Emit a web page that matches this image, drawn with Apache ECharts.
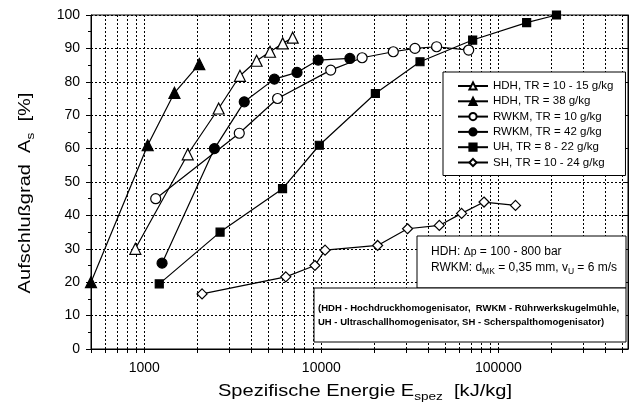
<!DOCTYPE html>
<html>
<head>
<meta charset="utf-8">
<script src="https://cdn.jsdelivr.net/npm/echarts@6/dist/echarts.min.js"></script>
<style>
html, body { margin: 0; padding: 0; background: #fff; }
#chart { width: 636px; height: 407px; }
</style>
</head>
<body>
<div id="chart"></div>
<script>
// specific energy E_spez [kJ/kg] and disruption degree A_s [%]
var hdhLowE = [890, 1760, 2630, 3470, 4310, 5130, 6050, 6890];
var hdhLowA = [30, 58.3, 72, 81.8, 86.3, 89, 91.5, 93.2];
var hdhHighE = [500, 1045, 1480, 2045];
var hdhHighA = [20, 61, 76.7, 85.3];
var rwkmLowE = [1160, 3440, 5660, 11300, 17000, 25500, 33800, 44800, 68000];
var rwkmLowA = [45, 64.6, 75, 83.5, 87.2, 89, 90, 90.5, 89.5];
var rwkmHighE = [1260, 2490, 3670, 5430, 7290, 9600, 14500];
var rwkmHighA = [25.7, 60, 74, 80.8, 82.8, 86.5, 87];
var uhE = [1215, 2680, 6040, 9740, 20200, 36100, 71600, 144500, 213000];
var uhA = [19.5, 35, 48, 61, 76.5, 86, 92.5, 97.7, 100];
var shE = [2120, 6300, 9200, 10500, 20800, 30700, 46400, 62000, 83000, 125000];
var shA = [16.5, 21.6, 25, 29.6, 31, 36, 37, 40.6, 44, 43];

// log axis grid / tick positions and labels
var xGridValues = [500, 600, 700, 800, 900,
  1000, 2000, 3000, 4000, 5000, 6000, 7000, 8000, 9000,
  10000, 20000, 30000, 40000, 50000, 60000, 70000, 80000, 90000,
  100000, 200000, 300000, 400000, 500000];
var xLabelValues = [1000, 10000, 100000];

var FONT = 'Liberation Sans, Arial, sans-serif';

function pairs(e, a) {
  var out = [];
  for (var i = 0; i < e.length; i++) out.push([e[i], a[i]]);
  return out;
}

function mkSeries(name, e, a, symbol, size, filled) {
  return {
    name: name,
    type: 'line',
    data: pairs(e, a),
    symbol: symbol,
    symbolSize: size,
    showAllSymbol: true,
    lineStyle: { color: '#000', width: 1.2 },
    itemStyle: {
      color: filled ? '#000' : '#fff',
      borderColor: '#000',
      borderWidth: 1.2
    },
    z: 3
  };
}

var chart = echarts.init(document.getElementById('chart'));

var subRich = {
  n: { fontSize: 17, lineHeight: 23, fontFamily: FONT, color: '#000' },
  s: { fontSize: 11.5, lineHeight: 11, verticalAlign: 'bottom', fontFamily: FONT, color: '#000' }
};
var noteRich = {
  n: { fontSize: 12, lineHeight: 17, fontFamily: FONT, color: '#000' },
  s: { fontSize: 8.5, lineHeight: 9, verticalAlign: 'bottom', fontFamily: FONT, color: '#000' },
  d: { fontSize: 10.5, lineHeight: 17, fontFamily: FONT, color: '#000' }
};

// vertical dotted grid at every log tick (major and minor)
var gridLines = xGridValues.slice(1).map(function (v) { return { xAxis: v }; });

chart.setOption({
  animation: false,
  backgroundColor: '#fff',
  textStyle: { fontFamily: FONT, color: '#000' },
  grid: {
    left: 91, right: 8, top: 15, bottom: 58,
    show: true, borderColor: '#000', borderWidth: 1
  },
  legend: {
    orient: 'vertical',
    left: 443, top: 72,
    z: 20,
    padding: [8, 12, 7, 14],
    backgroundColor: '#fff',
    borderColor: '#000',
    borderWidth: 1,
    itemWidth: 30,
    itemHeight: 9,
    itemGap: 3.3,
    textStyle: { fontSize: 11.5, lineHeight: 12, color: '#000', fontFamily: FONT },
    data: ['HDH, TR = 10 - 15 g/kg', 'HDH, TR = 38 g/kg', 'RWKM, TR = 10 g/kg',
      'RWKM, TR = 42 g/kg', 'UH, TR = 8 - 22 g/kg', 'SH, TR = 10 - 24 g/kg']
  },
  xAxis: {
    type: 'log',
    logBase: 10,
    min: 500,
    max: 540000,
    axisLine: { lineStyle: { color: '#000', width: 1 } },
    axisTick: { customValues: xGridValues, length: 4, lineStyle: { color: '#000' } },
    axisLabel: {
      customValues: xLabelValues,
      fontSize: 14,
      color: '#000',
      margin: 12,
      formatter: function (v) { return String(Math.round(v)); }
    },
    splitLine: { show: false }
  },
  yAxis: [{
    type: 'value',
    min: 0,
    max: 100,
    interval: 10,
    axisLine: { show: true, lineStyle: { color: '#000', width: 1 } },
    axisTick: { show: true, length: 5, lineStyle: { color: '#000' } },
    minorTick: { show: true, splitNumber: 2, length: 3, lineStyle: { color: '#000' } },
    axisLabel: { fontSize: 14, color: '#000', margin: 11 },
    splitLine: { show: true, lineStyle: { color: '#000', type: [2, 2], width: 1 } }
  }, {
    type: 'value',
    position: 'right',
    min: 0,
    max: 100,
    interval: 10,
    axisLine: { show: true, lineStyle: { color: '#000', width: 1 } },
    axisTick: { show: true, inside: true, length: 4, lineStyle: { color: '#000' } },
    axisLabel: { show: false },
    splitLine: { show: false }
  }],
  series: [
    {
      name: 'grid',
      type: 'line',
      data: [],
      z: 1,
      silent: true,
      markLine: {
        z: 1,
        silent: true,
        symbol: 'none',
        label: { show: false },
        animation: false,
        lineStyle: { color: '#000', type: [2, 2], width: 1 },
        emphasis: { disabled: true },
        data: gridLines
      }
    },
    mkSeries('HDH, TR = 10 - 15 g/kg', hdhLowE, hdhLowA, 'triangle', 11, false),
    mkSeries('HDH, TR = 38 g/kg', hdhHighE, hdhHighA, 'triangle', 11, true),
    mkSeries('RWKM, TR = 10 g/kg', rwkmLowE, rwkmLowA, 'circle', 10, false),
    mkSeries('RWKM, TR = 42 g/kg', rwkmHighE, rwkmHighA, 'circle', 10, true),
    mkSeries('UH, TR = 8 - 22 g/kg', uhE, uhA, 'rect', 8, true),
    mkSeries('SH, TR = 10 - 24 g/kg', shE, shA, 'diamond', 10, false)
  ],
  graphic: [
    {
      type: 'text', x: 25, y: 193, rotation: Math.PI / 2, scaleX: 1.18,
      style: { text: '{n|Aufschlußgrad  A}{s|s}{n|  [%]}', rich: subRich, align: 'center', verticalAlign: 'middle' }
    },
    {
      type: 'text', x: 365, y: 391, scaleX: 1.18,
      style: { text: '{n|Spezifische Energie E}{s|spez}{n|  [kJ/kg]}', rich: subRich, align: 'center', verticalAlign: 'middle' }
    },
    {
      type: 'rect', z: 100,
      shape: { x: 417, y: 236, width: 209, height: 52 },
      style: { fill: '#fff', stroke: '#000', lineWidth: 1 }
    },
    {
      type: 'text', z: 101, x: 431, y: 252,
      style: { text: '{n|HDH: }{d|Δp}{n| = 100 - 800 bar}', rich: noteRich, verticalAlign: 'middle' }
    },
    {
      type: 'text', z: 101, x: 431, y: 268,
      style: { text: '{n|RWKM: d}{s|MK}{n| = 0,35 mm, v}{s|U}{n| = 6 m/s}', rich: noteRich, verticalAlign: 'middle' }
    },
    {
      type: 'rect', z: 100,
      shape: { x: 314, y: 288, width: 312, height: 54 },
      style: { fill: '#fff', stroke: '#000', lineWidth: 1 }
    },
    {
      type: 'text', z: 101, x: 318, y: 308,
      style: {
        text: '(HDH - Hochdruckhomogenisator,  RWKM - Rührwerkskugelmühle,',
        font: 'bold 9.5px ' + FONT, fill: '#000', verticalAlign: 'middle'
      }
    },
    {
      type: 'text', z: 101, x: 318, y: 322,
      style: {
        text: 'UH - Ultraschallhomogenisator, SH - Scherspalthomogenisator)',
        font: 'bold 9.5px ' + FONT, fill: '#000', verticalAlign: 'middle'
      }
    }
  ]
});
</script>
</body>
</html>
